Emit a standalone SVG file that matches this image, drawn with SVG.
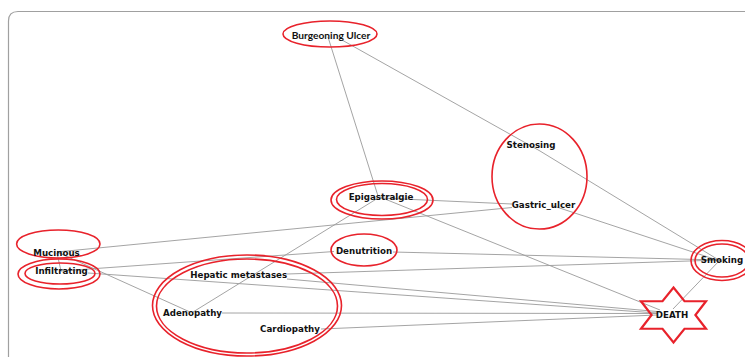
<svg xmlns="http://www.w3.org/2000/svg" width="745" height="357" viewBox="0 0 745 357">
<style>
.frame{fill:none;stroke:#a0a0a0;stroke-width:1.2}
.ring{fill:none;stroke:#e8222b;stroke-width:1.6}
.star{fill:none;stroke:#e8222b;stroke-width:2.2;stroke-linejoin:miter}
.edge{stroke:#9a9a9a;stroke-width:0.9;fill:none}
.lbl{font-family:"DejaVu Sans",sans-serif;font-weight:bold;font-size:8.7px;fill:#111;text-anchor:middle}
.lbl2{font-family:"Lato","Liberation Sans",sans-serif;font-weight:bold;font-size:10.2px;fill:#111;text-anchor:middle}
</style>
<rect width="745" height="357" fill="#ffffff"/>
<path class="frame" d="M8.5 357 V21 Q8.5 11.5 18 11.5 H745"/>
<g id="connectors">
<line class="edge" x1="328" y1="37" x2="378" y2="196"/>
<line class="edge" x1="342" y1="40" x2="540" y2="151"/>
<line class="edge" x1="540" y1="151" x2="722" y2="262"/>
<line class="edge" x1="380" y1="198" x2="512" y2="204"/>
<line class="edge" x1="57" y1="252" x2="512" y2="207.5"/>
<line class="edge" x1="380" y1="197" x2="660" y2="310"/>
<line class="edge" x1="378" y1="198" x2="193" y2="312"/>
<line class="edge" x1="57" y1="253" x2="61" y2="271"/>
<line class="edge" x1="57" y1="252" x2="190" y2="312"/>
<line class="edge" x1="61" y1="271" x2="334" y2="251.5"/>
<line class="edge" x1="393" y1="252" x2="720" y2="260"/>
<line class="edge" x1="287" y1="274" x2="720" y2="260"/>
<line class="edge" x1="88" y1="273" x2="657" y2="313"/>
<line class="edge" x1="287" y1="279" x2="657" y2="311.5"/>
<line class="edge" x1="222" y1="313" x2="657" y2="313.5"/>
<line class="edge" x1="321" y1="329" x2="657" y2="315"/>
<line class="edge" x1="552" y1="205.5" x2="720" y2="261"/>
<line class="edge" x1="720" y1="260" x2="673" y2="309"/>
</g>
<g id="cluster-gastric">
<ellipse class="ring" cx="539.5" cy="176.5" rx="47.5" ry="52.5"/>
</g>
<g id="cluster-hepatic">
<ellipse class="ring" cx="247" cy="305.5" rx="94.5" ry="50.5"/>
<ellipse class="ring" cx="247" cy="306" rx="90.5" ry="47"/>
</g>
<g id="node-burgeoning-ulcer">
<ellipse class="ring" cx="330" cy="34" rx="47" ry="13"/>
<text class="lbl2" x="331" y="38.5">Burgeoning Ulcer</text>
</g>
<g id="node-stenosing">
<text class="lbl" x="531" y="148.2">Stenosing</text>
</g>
<g id="node-gastric-ulcer">
<text class="lbl" x="543.5" y="208.2">Gastric_ulcer</text>
</g>
<g id="node-epigastralgie">
<ellipse class="ring" cx="382" cy="200" rx="51" ry="19"/>
<ellipse class="ring" cx="382" cy="199.5" rx="45.5" ry="16"/>
<text class="lbl" x="381" y="200.2">Epigastralgie</text>
</g>
<g id="node-denutrition">
<ellipse class="ring" cx="364" cy="250" rx="33" ry="16"/>
<text class="lbl" x="364" y="253.9">Denutrition</text>
</g>
<g id="node-mucinous">
<ellipse class="ring" cx="58.3" cy="244" rx="41.7" ry="14"/>
<text class="lbl" x="56.5" y="255.9">Mucinous</text>
</g>
<g id="node-infiltrating">
<ellipse class="ring" cx="59" cy="274" rx="41" ry="15"/>
<ellipse class="ring" cx="60" cy="273.5" rx="35" ry="10.5"/>
<text class="lbl" x="61.5" y="274.2">Infiltrating</text>
</g>
<g id="node-hepatic-metastases">
<text class="lbl" x="238.7" y="278.2">Hepatic metastases</text>
</g>
<g id="node-adenopathy">
<text class="lbl" x="192.5" y="315.5">Adenopathy</text>
</g>
<g id="node-cardiopathy">
<text class="lbl" x="290" y="332.2">Cardiopathy</text>
</g>
<g id="node-smoking">
<ellipse class="ring" cx="722" cy="260.5" rx="31" ry="20"/>
<ellipse class="ring" cx="722" cy="260.5" rx="27" ry="16.5"/>
<text class="lbl" x="722" y="263.2">Smoking</text>
</g>
<g id="node-death">
<polygon class="star" points="673.5,287.5 684.5,301.25 706,301.25 695.4,315 706,328.75 684.5,328.75 673.5,342.5 662.5,328.75 641,328.75 651.6,315 641,301.25 662.5,301.25"/>
<text class="lbl" x="672" y="318.2">DEATH</text>
</g>
</svg>
